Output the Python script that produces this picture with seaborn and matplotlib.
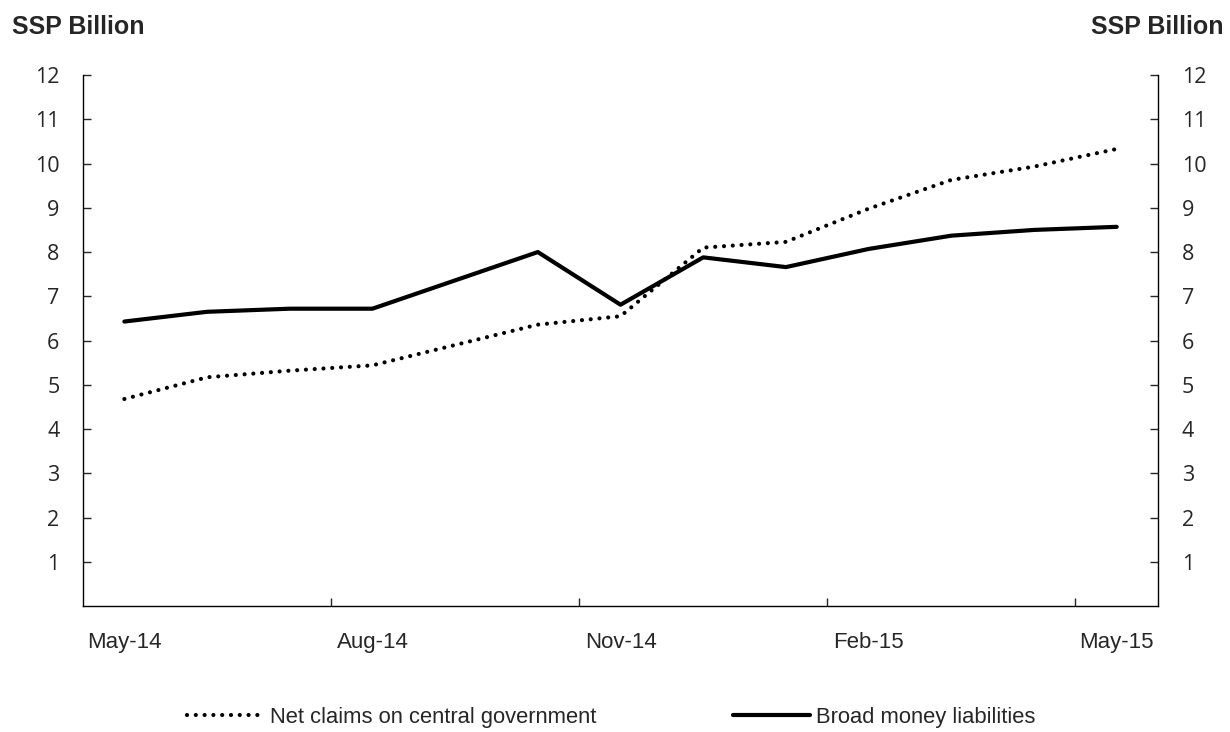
import numpy as np
import pandas as pd
import matplotlib
matplotlib.use("Agg")
import matplotlib.pyplot as plt
import seaborn as sns

months = ["May-14", "Jun-14", "Jul-14", "Aug-14", "Sep-14", "Oct-14", "Nov-14",
          "Dec-14", "Jan-15", "Feb-15", "Mar-15", "Apr-15", "May-15"]
net_claims = [4.68, 5.17, 5.32, 5.44, 5.90, 6.36, 6.55, 8.10, 8.23, 8.98, 9.63, 9.93, 10.33]
broad_money = [6.43, 6.65, 6.72, 6.72, 7.36, 8.00, 6.81, 7.88, 7.66, 8.07, 8.37, 8.50, 8.57]
series_names = ["Net claims on central government", "Broad money liabilities"]
shown_labels = ["May-14", "Aug-14", "Nov-14", "Feb-15", "May-15"]
y_ticks = list(range(1, 13))

sns.set_style("white")
plt.rcParams["font.family"] = ["Liberation Sans Narrow", "Liberation Sans", "DejaVu Sans"]
plt.rcParams["lines.dash_capstyle"] = "round"

df = pd.DataFrame({
    "idx": list(range(len(months))) * 2,
    "value": net_claims + broad_money,
    "series": [series_names[0]] * len(months) + [series_names[1]] * len(months),
})

fig = plt.figure(figsize=(12.3, 7.32), dpi=100)
ax = fig.add_axes([0.0675, 0.172, 0.874, 0.7255])

sns.lineplot(data=df, x="idx", y="value", hue="series", style="series",
             palette={series_names[0]: "black", series_names[1]: "black"},
             dashes={series_names[0]: (0.01, 2.1), series_names[1]: ""},
             linewidth=3, ax=ax, legend=True)

ax.set_xlim(-0.5, len(months) - 0.5)
ax.set_ylim(0, 12)
ax.set_xlabel("")
ax.set_ylabel("")

# category labels, with tick marks between categories
label_pos = [months.index(m) for m in shown_labels]
ax.set_xticks(label_pos)
ax.set_xticklabels(shown_labels, fontsize=16)
ax.set_xticks([p + 2.5 for p in label_pos[:-1]], minor=True)
ax.tick_params(axis="x", which="major", length=0, pad=19, bottom=True)
ax.tick_params(axis="x", which="minor", length=6, direction="in", width=1, bottom=True)

ax.set_yticks(y_ticks)
ax.set_yticklabels([str(v) for v in y_ticks], fontsize=15.5, family=["Open Sans", "DejaVu Sans"])
ax.tick_params(axis="y", which="both", direction="in", length=6, width=1,
               left=True, right=True, labelleft=True, labelright=True)
ax.tick_params(axis="y", pad=17)

for side in ["left", "right", "bottom"]:
    ax.spines[side].set_color("black")
    ax.spines[side].set_linewidth(1)
ax.spines["top"].set_visible(False)

fig.text(0.01, 0.963, "SSP Billion", fontsize=18, fontweight="bold",
         family=["Liberation Sans", "DejaVu Sans"], ha="left", va="center")
fig.text(0.995, 0.963, "SSP Billion", fontsize=18, fontweight="bold",
         family=["Liberation Sans", "DejaVu Sans"], ha="right", va="center")

handles, labels = ax.get_legend_handles_labels()
ax.legend(handles, labels, loc="center", bbox_to_anchor=(0.497, 0.02),
          bbox_transform=fig.transFigure, ncol=2, frameon=False, fontsize=15.8,
          handlelength=3.5, handletextpad=0.3, columnspacing=6.2)

plt.savefig("out.png", dpi=100)
